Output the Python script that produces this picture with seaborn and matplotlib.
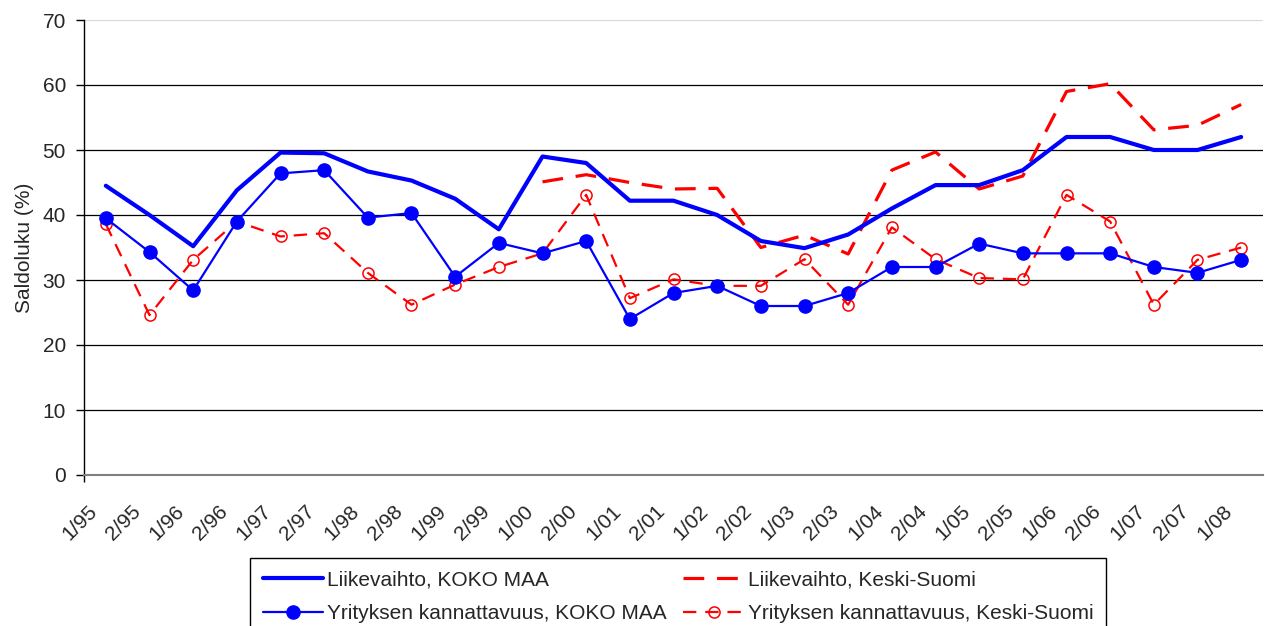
import numpy as np
import pandas as pd
import seaborn as sns
import matplotlib.pyplot as plt
import matplotlib.transforms as mtransforms

# data
periods = ["1/95", "2/95", "1/96", "2/96", "1/97", "2/97", "1/98", "2/98", "1/99",
           "2/99", "1/00", "2/00", "1/01", "2/01", "1/02", "2/02", "1/03", "2/03",
           "1/04", "2/04", "1/05", "2/05", "1/06", "2/06", "1/07", "2/07", "1/08"]

liikevaihto_koko = [44.5, 40.0, 35.2, 43.8, 49.6, 49.5, 46.7, 45.3, 42.5,
                    37.8, 49.0, 48.0, 42.2, 42.2, 40.0, 36.0, 34.9, 37.0,
                    41.0, 44.6, 44.6, 46.9, 52.0, 52.0, 50.0, 50.0, 52.0]

liikevaihto_ks = [np.nan] * 10 + [45.1, 46.2, 45.0, 44.0, 44.1, 35.0, 36.9, 34.0,
                                  46.9, 49.7, 44.0, 46.0, 59.0, 60.2, 53.1, 53.8, 57.0]

kannattavuus_koko = [39.5, 34.3, 28.4, 39.0, 46.4, 46.9, 39.6, 40.3, 30.5,
                     35.7, 34.1, 36.0, 24.0, 28.0, 29.1, 26.0, 26.0, 28.0,
                     32.0, 32.0, 35.6, 34.1, 34.1, 34.1, 32.0, 31.1, 33.1]

kannattavuus_ks = [38.6, 24.6, 33.1, 39.0, 36.7, 37.2, 31.1, 26.2, 29.3,
                   32.0, 34.1, 43.1, 27.2, 30.1, 29.1, 29.1, 33.2, 26.2,
                   38.1, 33.2, 30.3, 30.1, 43.1, 39.0, 26.2, 33.1, 35.0]

labels = ["Liikevaihto, KOKO MAA", "Yrityksen kannattavuus, KOKO MAA",
          "Liikevaihto, Keski-Suomi", "Yrityksen kannattavuus, Keski-Suomi"]

df = pd.DataFrame({
    "idx": np.arange(len(periods)),
    "lv_koko": liikevaihto_koko,
    "lv_ks": liikevaihto_ks,
    "ka_koko": kannattavuus_koko,
    "ka_ks": kannattavuus_ks,
})

sns.set_theme(style="white")
plt.rcParams["font.family"] = ["Liberation Sans", "DejaVu Sans"]

fig = plt.figure(figsize=(12.65, 6.26), dpi=100)
ax = fig.add_axes([84 / 1265, 1 - 475 / 626, (1263 - 84) / 1265, 455 / 626])

# red series first so blue sits on top where they cross
sns.lineplot(data=df, x="idx", y="lv_ks", ax=ax, color="#FF0000", lw=2.3,
             linestyle=(0, (6.5, 4)), label=labels[2], legend=False)
sns.lineplot(data=df, x="idx", y="ka_ks", ax=ax, color="#FF0000", lw=1.6,
             linestyle=(0, (6, 4)), marker="o", markersize=8,
             markerfacecolor="none", markeredgecolor="#FF0000",
             markeredgewidth=1.1, label=labels[3], legend=False)
sns.lineplot(data=df, x="idx", y="lv_koko", ax=ax, color="#0000FF", lw=3.0,
             label=labels[0], legend=False)
sns.lineplot(data=df, x="idx", y="ka_koko", ax=ax, color="#0000FF", lw=1.6,
             marker="o", markersize=9.5, markerfacecolor="#0000FF",
             markeredgecolor="#0000FF", markeredgewidth=1, label=labels[1],
             legend=False)

ax.set_xlim(-0.5, len(periods) - 0.5)
ax.set_ylim(0, 70)
ax.set_yticks(range(0, 71, 10))
ax.set_xticks(range(len(periods)))
ax.set_xticks([-0.5], minor=True)
ax.set_xticklabels(periods, rotation=45, ha="right", va="center",
                   rotation_mode="anchor")
ax.yaxis.grid(True, color="black", lw=0.9)
ax.yaxis.get_gridlines()[-1].set_color("#d9d9d9")
ax.set_axisbelow(True)

for s in ["top", "right"]:
    ax.spines[s].set_visible(False)
ax.spines["left"].set_color("black")
ax.spines["left"].set_linewidth(1)
ax.spines["bottom"].set_color("#808080")
ax.spines["bottom"].set_linewidth(1.5)

ax.tick_params(axis="y", length=6, width=1, color="black", pad=7, labelsize=15,
               left=True, direction="out")
ax.tick_params(axis="x", which="major", length=0, pad=24, labelsize=15)
ax.tick_params(axis="x", which="minor", length=5, width=1, color="black",
               bottom=True, direction="out")

# nudge the slanted labels left, like the spreadsheet original
shift = mtransforms.ScaledTranslation(-12 / 100, 0, fig.dpi_scale_trans)
for lbl in ax.get_xticklabels():
    lbl.set_transform(lbl.get_transform() + shift)

ax.set_xlabel("")
ax.set_ylabel("Saldoluku (%)", fontsize=15, labelpad=6)

handles, labs = ax.get_legend_handles_labels()
order = [labs.index(l) for l in labels]
fig.legend([handles[i] for i in order], [labs[i] for i in order],
           loc="upper left", bbox_to_anchor=(250 / 1265, 1 - 558 / 626),
           ncol=2, fontsize=15, frameon=True, fancybox=False,
           edgecolor="black", framealpha=1, handlelength=2.9,
           handletextpad=0.2, columnspacing=0.8, borderpad=0.6,
           labelspacing=0.7, borderaxespad=0)

fig.savefig("out.png", dpi=100)
